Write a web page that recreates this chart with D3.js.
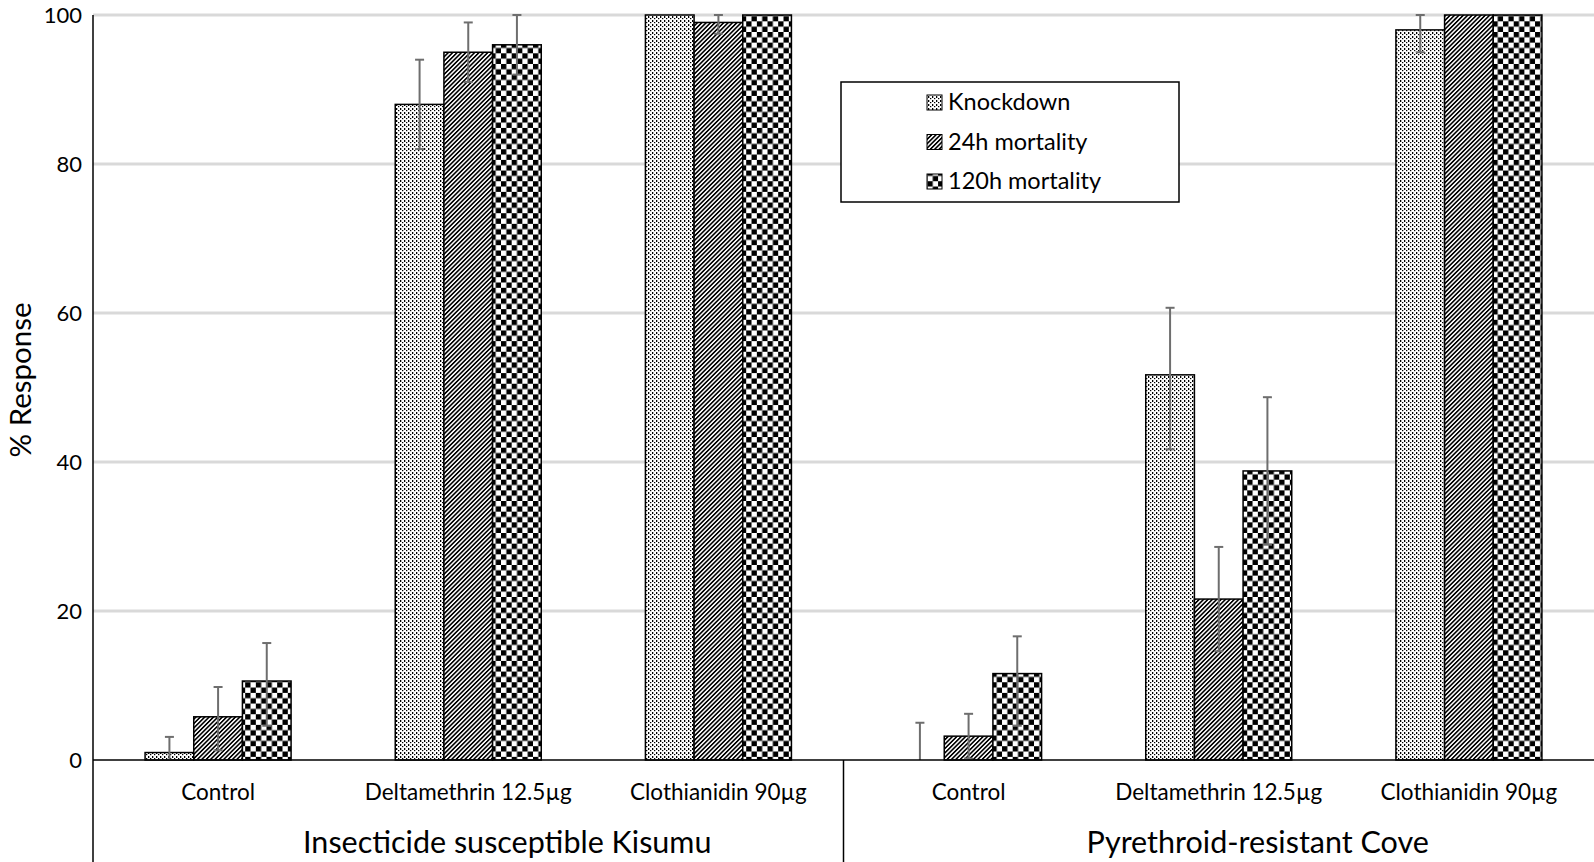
<!DOCTYPE html>
<html><head><meta charset="utf-8">
<script src="https://cdn.jsdelivr.net/npm/d3@7"></script>
<style>body{margin:0;background:#fff}svg{display:block}text{font-family:Lato,"Open Sans",sans-serif;fill:#000}</style>
</head><body><svg id="c" width="1594" height="862"></svg>
<script>
const categories = ["Control","Deltamethrin 12.5µg","Clothianidin 90µg","Control","Deltamethrin 12.5µg","Clothianidin 90µg"];
const groups = ["Insecticide susceptible Kisumu","Pyrethroid-resistant Cove"];
const seriesNames = ["Knockdown","24h mortality","120h mortality"];
const knockdown = [1, 88, 100, 0, 51.7, 98];
const mort24 = [5.8, 95, 99, 3.2, 21.6, 100];
const mort120 = [10.6, 96, 100, 11.6, 38.8, 100];
const knockdownErrUp = [2.1, 6, 0, 5, 9, 2];
const knockdownErrDown = [1, 6, 0, 0, 10, 3];
const mort24ErrUp = [4, 4, 1, 3, 7, 0];
const mort24ErrDown = [4.5, 4, 1.5, 3, 7, 0];
const mort120ErrUp = [5.1, 4, 0, 5, 9.9, 0];
const mort120ErrDown = [6, 4, 0, 7, 9.9, 0];
const yTicks = [0, 20, 40, 60, 80, 100];

const series = [
  {name: seriesNames[0], values: knockdown, up: knockdownErrUp, down: knockdownErrDown, pat: "p-kd"},
  {name: seriesNames[1], values: mort24, up: mort24ErrUp, down: mort24ErrDown, pat: "p-24"},
  {name: seriesNames[2], values: mort120, up: mort120ErrUp, down: mort120ErrDown, pat: "p-120"}
];

const svg = d3.select("#c");
const L = 93, R = 1594, T = 15, B = 760, BOTTOM = 862;

// patterns
const defs = svg.append("defs");
const pk = defs.append("pattern").attr("id","p-kd").attr("patternUnits","userSpaceOnUse").attr("width",4).attr("height",4);
pk.append("rect").attr("width",4).attr("height",4).attr("fill","#fff");
pk.append("rect").attr("x",0).attr("y",0).attr("width",1.3).attr("height",2).attr("fill","#000");
pk.append("rect").attr("x",2).attr("y",2).attr("width",1.3).attr("height",1.2).attr("fill","#000");
const p24 = defs.append("pattern").attr("id","p-24").attr("patternUnits","userSpaceOnUse").attr("width",3.1).attr("height",6).attr("patternTransform","rotate(45)");
p24.append("rect").attr("width",3.1).attr("height",6).attr("fill","#fff");
p24.append("rect").attr("x",0).attr("y",0).attr("width",1.6).attr("height",6).attr("fill","#000");
const cs = 5.33;
const pc = defs.append("pattern").attr("id","p-120").attr("patternUnits","userSpaceOnUse").attr("width",2*cs).attr("height",2*cs);
pc.append("rect").attr("width",2*cs).attr("height",2*cs).attr("fill","#fff");
pc.append("rect").attr("x",0).attr("y",0).attr("width",cs).attr("height",cs).attr("fill","#000");
pc.append("rect").attr("x",cs).attr("y",cs).attr("width",cs).attr("height",cs).attr("fill","#000");

const x0 = d3.scaleBand().domain(d3.range(categories.length)).range([L, R]).padding(0);
const x1 = d3.scaleBand().domain(d3.range(series.length)).range([0, x0.bandwidth()]).paddingInner(0).paddingOuter(1.07);
const y = d3.scaleLinear().domain([0, 100]).range([B, T]);

// gridlines
svg.append("g").selectAll("line").data(yTicks.filter(t => t > 0)).join("line")
  .attr("x1", L).attr("x2", R).attr("y1", d => y(d)).attr("y2", d => y(d))
  .attr("stroke", "#d9d9d9").attr("stroke-width", 3);

// y tick labels
svg.append("g").selectAll("text").data(yTicks).join("text")
  .attr("x", 82).attr("y", d => y(d)).attr("dy", "0.35em").attr("text-anchor", "end")
  .attr("font-size", 22).text(d => d);

// bars
const gBars = svg.append("g");
series.forEach((s, si) => {
  gBars.selectAll(null).data(s.values).join("rect")
    .attr("x", (d, i) => x0(i) + x1(si))
    .attr("y", d => y(d))
    .attr("width", x1.bandwidth())
    .attr("height", d => y(0) - y(d))
    .attr("fill", `url(#${s.pat})`)
    .attr("stroke", d => d > 0 ? "#000" : "none").attr("stroke-width", 1.5);
});

// error bars
const gErr = svg.append("g").attr("stroke", "#6e6e6e").attr("stroke-width", 2);
series.forEach((s, si) => {
  s.values.forEach((v, i) => {
    if (s.up[i] <= 0 && s.down[i] <= 0) return;
    const cx = x0(i) + x1(si) + x1.bandwidth() / 2;
    const yt = y(Math.min(100, v + s.up[i])), yb = y(Math.max(0, v - s.down[i]));
    gErr.append("line").attr("x1", cx).attr("x2", cx).attr("y1", yt).attr("y2", yb);
    if (s.up[i] > 0) gErr.append("line").attr("x1", cx - 4.5).attr("x2", cx + 4.5).attr("y1", yt).attr("y2", yt);
    if (s.down[i] > 0 && v - s.down[i] > 0) gErr.append("line").attr("x1", cx - 4.5).attr("x2", cx + 4.5).attr("y1", yb).attr("y2", yb);
  });
});

// axes lines
svg.append("line").attr("x1", L).attr("x2", R).attr("y1", B).attr("y2", B).attr("stroke", "#000").attr("stroke-width", 1.5);
svg.append("line").attr("x1", L).attr("x2", L).attr("y1", T).attr("y2", BOTTOM).attr("stroke", "#000").attr("stroke-width", 1.5);
const groupEdges = [x0(3)];
svg.selectAll(null).data(groupEdges).join("line")
  .attr("x1", d => d).attr("x2", d => d).attr("y1", B).attr("y2", BOTTOM).attr("stroke", "#000").attr("stroke-width", 1.5);

// category labels
svg.append("g").selectAll("text").data(categories).join("text")
  .attr("x", (d, i) => x0(i) + x0.bandwidth() / 2).attr("y", 792).attr("dy", "0.35em")
  .attr("text-anchor", "middle").attr("font-size", 22.5).text(d => d);

// group labels
svg.append("g").selectAll("text").data(groups).join("text")
  .attr("x", (d, i) => x0(i * 3) + x0.bandwidth() * 1.5 + 39).attr("y", 842).attr("dy", "0.35em")
  .attr("text-anchor", "middle").attr("font-size", 30.5).text(d => d);

// y title
svg.append("text").attr("transform", "translate(31,380) rotate(-90)")
  .attr("text-anchor", "middle").attr("font-size", 29.5).text("% Response");

// legend
const lg = svg.append("g");
lg.append("rect").attr("x", 841).attr("y", 82).attr("width", 338).attr("height", 120)
  .attr("fill", "#fff").attr("stroke", "#000").attr("stroke-width", 1.5);
series.forEach((s, si) => {
  const cy = 102 + si * 39.5;
  lg.append("rect").attr("x", 927).attr("y", cy - 7).attr("width", 15).attr("height", 15)
    .attr("fill", `url(#${s.pat})`).attr("stroke", "#000").attr("stroke-width", 1);
  lg.append("text").attr("x", 948).attr("y", cy).attr("dy", "0.35em").attr("font-size", 23.5).text(s.name);
});
</script></body></html>
